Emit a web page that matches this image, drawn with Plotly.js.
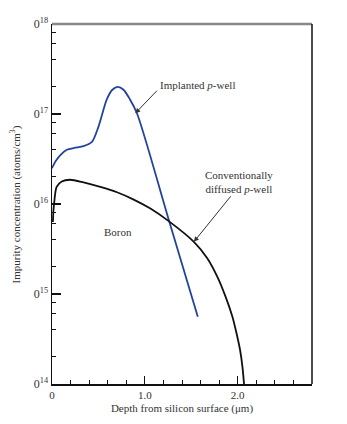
<!DOCTYPE html>
<html>
<head>
<meta charset="utf-8">
<script src="https://cdn.plot.ly/plotly-3.0.1.min.js"></script>
<style>html,body{margin:0;padding:0;background:#fff;}#chart{width:347px;height:424px;}</style>
</head>
<body>
<div id="chart"></div>
<script>
// Implanted p-well profile
var implantedDepth = [0, 0.04, 0.09, 0.16, 0.24, 0.34, 0.43, 0.50, 0.59, 0.65, 0.71, 0.77, 0.84, 0.915, 1.25, 1.57];
var implantedConc  = [2.5e16, 3.0e16, 3.5e16, 4.0e16, 4.2e16, 4.4e16, 4.9e16, 7.2e16, 1.45e17, 1.86e17, 2.0e17, 1.86e17, 1.45e17, 1.02e17, 7.1e15, 5.6e14];
// Conventionally diffused p-well (boron)
var boronDepth = [0.01, 0.015, 0.025, 0.05, 0.105, 0.195, 0.34, 0.52, 0.70, 0.88, 1.06, 1.257, 1.528, 1.672, 1.781, 1.870, 1.943, 1.989, 2.025, 2.051, 2.068];
var boronConc  = [6.3e15, 8.3e15, 1.07e16, 1.55e16, 1.78e16, 1.86e16, 1.74e16, 1.55e16, 1.35e16, 1.12e16, 8.9e15, 6.45e15, 3.8e15, 2.5e15, 1.55e15, 9.3e14, 5.6e14, 3.6e14, 2.4e14, 1.55e14, 1.0e14];
// Ticks
var yTickVals = [1e14, 1e15, 1e16, 1e17, 1e18];
var yTickText = ['0<sup>14</sup>', '0<sup>15</sup>', '0<sup>16</sup>', '0<sup>17</sup>', '0<sup>18</sup>'];
var xTickVals = [0, 1, 2];
var xTickText = ['0', '1.0', '2.0'];

var yMinor = [];
for (var e = 14; e < 18; e++) { [2,4,6,8].forEach(function(d){ yMinor.push(d * Math.pow(10, e)); }); }

var font = {family: '"Liberation Serif", "DejaVu Serif", serif', size: 11, color: '#333'};
var tickFont = {family: '"Liberation Serif", "DejaVu Serif", serif', size: 12, color: '#333'};

var traces = [
  {x: implantedDepth, y: implantedConc, mode: 'lines', line: {color: '#24439b', width: 1.8, shape: 'spline', smoothing: 0.8}, hoverinfo: 'skip'},
  {x: boronDepth, y: boronConc, mode: 'lines', line: {color: '#111', width: 1.8, shape: 'spline', smoothing: 0.8}, hoverinfo: 'skip'}
];

var layout = {
  width: 347, height: 424,
  margin: {l: 52, r: 35, t: 24, b: 40},
  paper_bgcolor: '#fff', plot_bgcolor: '#fff',
  showlegend: false,
  font: font,
  xaxis: {
    range: [0, 2.8], tickmode: 'array', tickvals: xTickVals, ticktext: xTickText,
    ticks: 'inside', ticklen: 8, tickwidth: 1.2, tickcolor: '#111',
    showline: true, linecolor: '#111', linewidth: 1.5, showgrid: false, zeroline: false,
    minor: {dtick: 0.2, tick0: 0, ticks: 'inside', ticklen: 4, tickwidth: 1, tickcolor: '#111', showgrid: false},
    title: {text: 'Depth from silicon surface (\u03bcm)', font: font, standoff: 4},
    tickfont: font
  },
  yaxis: {
    type: 'log', range: [14, 18], tickmode: 'array', tickvals: yTickVals, ticktext: yTickText,
    ticks: 'inside', ticklen: 9, tickwidth: 1.2, tickcolor: '#111',
    showline: true, linecolor: '#111', linewidth: 1.5, showgrid: false, zeroline: false,
    minor: {tickmode: 'array', tickvals: yMinor, ticks: 'inside', ticklen: 4, tickwidth: 1, tickcolor: '#111', showgrid: false},
    tickfont: tickFont
  },
  shapes: [
    {type: 'line', xref: 'paper', yref: 'paper', x0: 0, x1: 1, y0: 1, y1: 1, line: {color: '#888', width: 2.5}},
    {type: 'line', xref: 'paper', yref: 'paper', x0: 1, x1: 1, y0: 0, y1: 1, line: {color: '#111', width: 1.5}}
  ],
  annotations: [
    {x: -0.104, y: 0.5, xref: 'paper', yref: 'paper', text: 'Impurity concentration (atoms/cm<sup>3</sup>)', textangle: -90, showarrow: false, xanchor: 'right', yanchor: 'middle', font: font},
    {x: 1.146, y: 17.32, xref: 'x', yref: 'y', text: 'Implanted <i>p</i>-well', showarrow: false, xanchor: 'left', yanchor: 'middle', font: font},
    {x: 0.897, y: 17.008, xref: 'x', yref: 'y', text: '', showarrow: true, ax: 23, ay: -24, arrowhead: 2, arrowsize: 1, arrowwidth: 1, arrowcolor: '#333'},
    {x: 2.01, y: 16.24, xref: 'x', yref: 'y', text: 'Conventionally<br>diffused <i>p</i>-well', showarrow: false, xanchor: 'center', yanchor: 'middle', align: 'center', font: font},
    {x: 1.528, y: 15.58, xref: 'x', yref: 'y', text: '', showarrow: true, ax: 38, ay: -47, arrowhead: 2, arrowsize: 1, arrowwidth: 1, arrowcolor: '#333'},
    {x: 0.714, y: 15.69, xref: 'x', yref: 'y', text: 'Boron', showarrow: false, xanchor: 'center', yanchor: 'middle', font: font}
  ]
};

Plotly.newPlot('chart', traces, layout, {displayModeBar: false, staticPlot: true});
</script>
</body>
</html>
